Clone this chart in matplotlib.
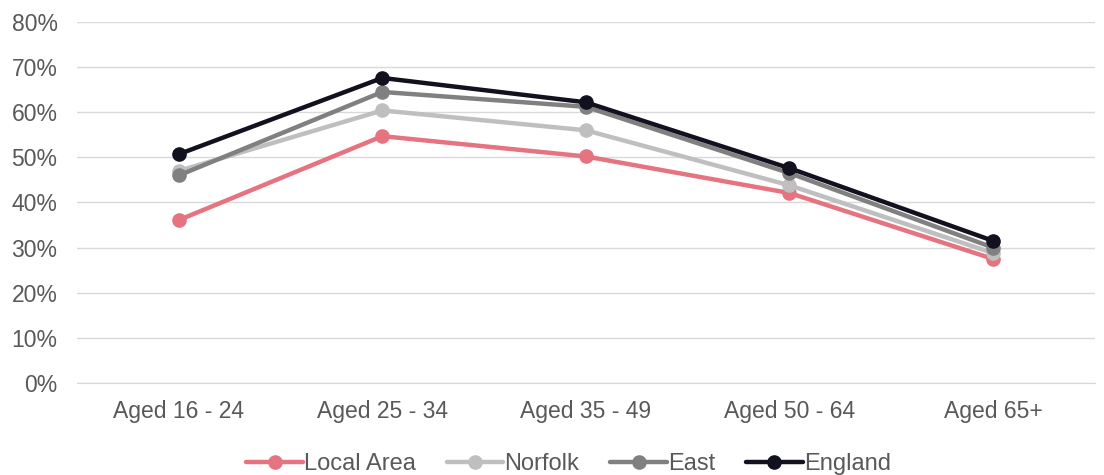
import matplotlib.pyplot as plt
from matplotlib.ticker import PercentFormatter

plt.rcParams['font.family'] = ['Liberation Sans', 'DejaVu Sans']

# Employment rate by age band
age_bands = ['Aged 16 - 24', 'Aged 25 - 34', 'Aged 35 - 49', 'Aged 50 - 64', 'Aged 65+']
local_area = [36.1, 54.7, 50.2, 42.1, 27.5]
norfolk = [47.0, 60.4, 56.0, 43.8, 28.8]
east = [46.0, 64.5, 61.2, 46.5, 30.0]
england = [50.7, 67.6, 62.2, 47.6, 31.5]

series = [
    ('Local Area', local_area, '#E57380'),
    ('Norfolk', norfolk, '#BFBFBF'),
    ('East', east, '#808080'),
    ('England', england, '#11111F'),
]

fig = plt.figure(figsize=(11.04, 4.75), dpi=100)
ax = fig.add_axes([0.0697, 0.1937, 0.922, 0.76])

x = range(len(age_bands))
for name, vals, col in series:
    ax.plot(x, [v / 100 for v in vals], color=col, lw=3.2, marker='o',
            markersize=9.5, label=name, solid_capstyle='round')

ax.set_xlim(-0.5, len(age_bands) - 0.5)
ax.set_ylim(0, 0.8)
ax.set_yticks([i / 10 for i in range(9)])
ax.yaxis.set_major_formatter(PercentFormatter(1.0, decimals=0))
ax.set_xticks(list(x))
ax.set_xticklabels(age_bands)
ax.grid(axis='y', color='#D9D9D9', lw=1)
ax.set_axisbelow(True)
for s in ['top', 'right', 'left']:
    ax.spines[s].set_visible(False)
ax.spines['bottom'].set_color('#D9D9D9')
ax.tick_params(length=0, labelsize=16.5, labelcolor='#595959', pad=12)
ax.tick_params(axis='y', pad=14)

ax.legend(loc='upper center', bbox_to_anchor=(0.483, -0.135), ncol=4, frameon=False,
          fontsize=17, labelcolor='#595959', handlelength=2.4, handletextpad=0.05,
          columnspacing=1.3)

plt.savefig('out.png')
